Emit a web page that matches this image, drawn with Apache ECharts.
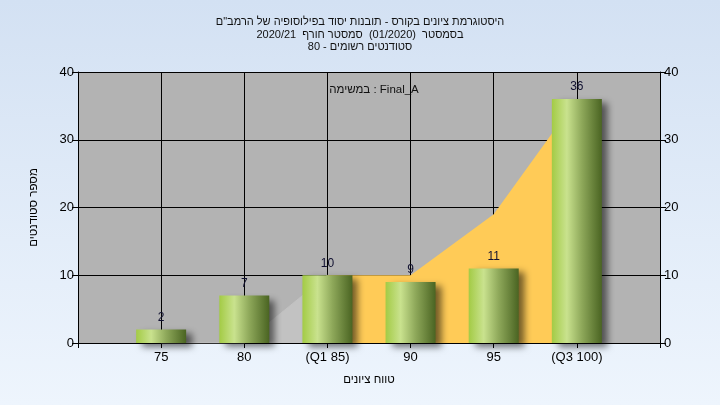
<!DOCTYPE html>
<html>
<head>
<meta charset="utf-8">
<script src="https://cdn.jsdelivr.net/npm/echarts@6/dist/echarts.min.js"></script>
<style>html,body{margin:0;padding:0;}#c{width:720px;height:405px;}</style>
</head>
<body>
<div id="c"></div>
<script>
var categories = ['', '75', '80', '(Q1 85)', '90', '95', '(Q3 100)', ''];
var counts = ['-', 2, 7, 10, 9, 11, 36, '-'];
var grayArea = ['-', 0, 0, 10, '-', '-', '-', '-'];
var yellowArea = ['-', '-', '-', 10, 10, 19, 36, '-'];
var yTicks = [0, 10, 20, 30, 40];
var titleLines = [
  'היסטוגרמת ציונים בקורס - תובנות יסוד בפילוסופיה של הרמב"ם',
  'בסמסטר  (01/2020)  סמסטר חורף  2020/21',
  'סטודנטים רשומים - 80'
];
var subLabel = 'במשימה : Final_A';
var xName = 'טווח ציונים';
var yName = 'מספר סטודנטים';

var FONT = 'Liberation Sans';
var chart = echarts.init(document.getElementById('c'), null, {renderer: 'canvas'});
var yAxisBase = {
  type: 'value', min: yTicks[0], max: yTicks[yTicks.length - 1], interval: 10,
  axisLine: {show: true, lineStyle: {color: '#000', width: 1}},
  axisTick: {show: true, length: 6, lineStyle: {color: '#000'}},
  axisLabel: {color: '#000', fontFamily: FONT, fontSize: 13, margin: 4},
  splitLine: {show: false}
};
chart.setOption({
  backgroundColor: {
    type: 'linear', x: 0, y: 0, x2: 0, y2: 1,
    colorStops: [{offset: 0, color: '#d3e1f3'}, {offset: 1, color: '#eef5fd'}]
  },
  animation: false,
  title: [
    {
      text: titleLines.join('\n'), left: 'center', top: 11,
      textStyle: {fontFamily: FONT, fontSize: 11, fontWeight: 'normal', color: '#111', lineHeight: 12.5}
    },
    {
      text: subLabel, left: 369, top: 79, textAlign: 'center',
      textStyle: {fontFamily: FONT, fontSize: 11.5, fontWeight: 'normal', color: '#111'}
    }
  ],
  grid: {left: 78, right: 60, top: 72, bottom: 62, show: true, backgroundColor: '#b3b3b3', borderWidth: 0},
  xAxis: {
    type: 'category', data: categories, boundaryGap: false,
    name: xName, nameLocation: 'middle', nameGap: 31,
    nameTextStyle: {fontFamily: FONT, fontSize: 11.5, color: '#000'},
    axisLine: {show: true, lineStyle: {color: '#000', width: 1}},
    axisTick: {show: true, length: 5, lineStyle: {color: '#000'}},
    axisLabel: {color: '#000', fontFamily: FONT, fontSize: 13, margin: 8, interval: 0},
    splitLine: {show: true, lineStyle: {color: '#000', width: 1}}
  },
  yAxis: [
    Object.assign({}, yAxisBase, {
      position: 'left',
      name: yName, nameLocation: 'middle', nameGap: 38,
      nameTextStyle: {fontFamily: FONT, fontSize: 11.5, color: '#000'},
      splitLine: {show: true, lineStyle: {color: '#000', width: 1}}
    }),
    Object.assign({}, yAxisBase, {position: 'right'})
  ],
  series: [
    {
      type: 'line', data: grayArea, symbol: 'none', silent: true, z: 1,
      lineStyle: {width: 1, color: '#c2c2c2'},
      areaStyle: {color: '#c2c2c2', opacity: 1}
    },
    {
      type: 'line', data: yellowArea, symbol: 'none', silent: true, z: 1,
      lineStyle: {width: 0, color: '#ffcb57'},
      areaStyle: {color: '#ffcb57', opacity: 1}
    },
    {
      type: 'bar', data: counts, barWidth: 50, z: 5,
      itemStyle: {
        color: {
          type: 'linear', x: 0, y: 0, x2: 1, y2: 0,
          colorStops: [
            {offset: 0, color: '#a3cb45'},
            {offset: 0.3, color: '#c9e28e'},
            {offset: 0.6, color: '#8ea85a'},
            {offset: 1, color: '#4a6422'}
          ]
        },
        shadowColor: 'rgba(0,0,0,0.55)', shadowBlur: 7, shadowOffsetX: 6, shadowOffsetY: 4
      },
      label: {
        show: true, position: 'top', distance: 6,
        color: '#101030', fontFamily: FONT, fontSize: 12
      }
    }
  ]
});
</script>
</body>
</html>
